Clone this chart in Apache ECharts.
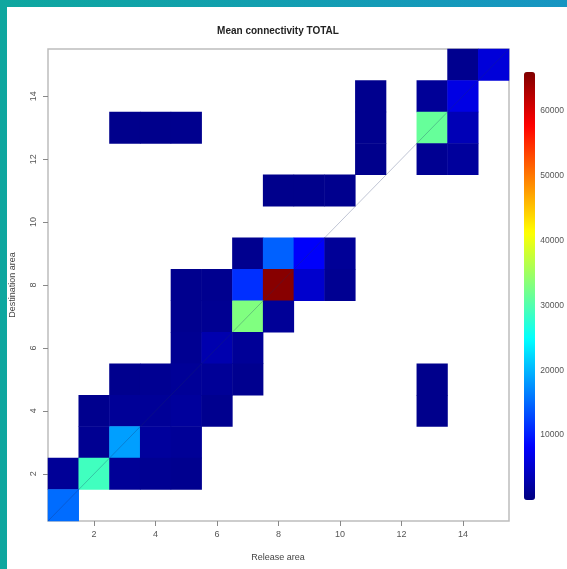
<!DOCTYPE html>
<html>
<head>
<meta charset="utf-8">
<script src="https://cdn.jsdelivr.net/npm/echarts@6/dist/echarts.min.js"></script>
<style>
html,body{margin:0;padding:0;background:#fff;}
#chart{width:567px;height:569px;}
</style>
</head>
<body>
<div id="chart"></div>
<script>
// ---- data ----
const releaseAreas = [1,2,3,4,5,6,7,8,9,10,11,12,13,14,15];
const destinationAreas = [1,2,3,4,5,6,7,8,9,10,11,12,13,14,15];
// [release area, destination area, mean connectivity]
const connectivity = [
  [14,15,1000],[15,15,5800],
  [11,14,900],[13,14,1500],[14,14,6500],
  [3,13,800],[4,13,800],[5,13,900],[11,13,900],[13,13,31300],[14,13,3500],
  [11,12,800],[13,12,1200],[14,12,1800],
  [8,11,800],[9,11,800],[10,11,900],
  [7,9,1000],[8,9,14500],[9,9,8000],[10,9,1500],
  [5,8,900],[6,8,1000],[7,8,11300],[8,8,65500],[9,8,5000],[10,8,1200],
  [5,7,1000],[6,7,1200],[7,7,33000],[8,7,1500],
  [5,6,1200],[6,6,3000],[7,6,1500],
  [3,5,900],[4,5,1200],[5,5,1500],[6,5,1500],[7,5,1000],[13,5,800],
  [2,4,900],[3,4,1500],[4,4,1500],[5,4,1800],[6,4,1000],[13,4,800],
  [2,3,1200],[3,3,18500],[4,3,1800],[5,3,1500],
  [1,2,1500],[2,2,28900],[3,2,1500],[4,2,1200],[5,2,1000],
  [1,1,15200]
];
const xTicks = [2,4,6,8,10,12,14];
const yTicks = [2,4,6,8,10,12,14];
const colorTicks = [10000,20000,30000,40000,50000,60000];
const colorMin = 0;
const colorMax = 66000;

// jet colour map (evenly spaced stops)
const jet = ['#000080','#0000ff','#0080ff','#00ffff','#80ff80','#ffff00','#ff8000','#ff0000','#800000'];

const heatData = connectivity.map(([x, y, v]) => [releaseAreas.indexOf(x), destinationAreas.indexOf(y), v]);
const lo = releaseAreas[0] - 0.5;
const hi = releaseAreas[releaseAreas.length - 1] + 0.5;
const diagonal = [[lo, lo], [hi, hi]];

const FONT = 'Liberation Sans, Arial, sans-serif';
const chart = echarts.init(document.getElementById('chart'), null, {renderer: 'canvas'});

const option = {
  animation: false,
  backgroundColor: '#ffffff',
  graphic: [
    {type: 'rect', z: -10, silent: true, shape: {x: 0, y: 0, width: 567, height: 569},
      style: {fill: new echarts.graphic.LinearGradient(0, 0, 1, 0, [
        {offset: 0, color: '#0ea79f'}, {offset: 1, color: '#1795c2'}])}},
    {type: 'rect', z: -9, silent: true, shape: {x: 7, y: 7, width: 560, height: 562}, style: {fill: '#ffffff'}},
    {type: 'text', x: 278, y: 31, style: {text: 'Mean connectivity TOTAL', font: 'bold 10px ' + FONT, fill: '#222', textAlign: 'center', textVerticalAlign: 'middle'}},
    {type: 'text', x: 278, y: 558, style: {text: 'Release area', font: '9px ' + FONT, fill: '#444', textAlign: 'center', textVerticalAlign: 'middle'}},
    {type: 'text', x: 13, y: 285, rotation: Math.PI / 2, style: {text: 'Destination area', font: '9px ' + FONT, fill: '#444', textAlign: 'center', textVerticalAlign: 'middle'}}
  ],
  grid: [
    {left: 48, top: 49, width: 461, height: 472, show: true, borderColor: '#bdbdbd', borderWidth: 1.5, backgroundColor: 'transparent'},
    {left: 524, top: 72, width: 11, height: 428, show: false}
  ],
  xAxis: [
    {type: 'category', gridIndex: 0, data: releaseAreas.map(String), boundaryGap: true,
      axisLine: {show: false},
      axisTick: {show: true, alignWithLabel: true, length: 5, interval: (i, v) => xTicks.includes(Number(v)), lineStyle: {color: '#888'}},
      axisLabel: {interval: (i, v) => xTicks.includes(Number(v)), fontSize: 9, color: '#555', margin: 9, fontFamily: FONT},
      splitLine: {show: false}},
    {type: 'value', gridIndex: 0, min: lo, max: hi, show: false},
    {type: 'value', gridIndex: 1, show: false}
  ],
  yAxis: [
    {type: 'category', gridIndex: 0, data: destinationAreas.map(String), boundaryGap: true,
      axisLine: {show: false},
      axisTick: {show: true, alignWithLabel: true, length: 5, interval: (i, v) => yTicks.includes(Number(v)), lineStyle: {color: '#888'}},
      axisLabel: {interval: (i, v) => yTicks.includes(Number(v)), rotate: 90, fontSize: 9, color: '#555', margin: 10, fontFamily: FONT},
      splitLine: {show: false}},
    {type: 'value', gridIndex: 0, min: lo, max: hi, show: false},
    {type: 'value', gridIndex: 1, position: 'right', min: colorMin, max: colorMax,
      axisLine: {show: false},
      axisTick: {show: true, length: 4, customValues: colorTicks, lineStyle: {color: '#888'}},
      axisLabel: {customValues: colorTicks, formatter: v => String(v), fontSize: 8.5, color: '#555', margin: 10, fontFamily: FONT},
      splitLine: {show: false}}
  ],
  visualMap: {
    type: 'continuous', seriesIndex: 0, min: colorMin, max: colorMax,
    orient: 'vertical', left: 524, top: 72, itemWidth: 11, itemHeight: 428,
    padding: 0, calculable: false, text: null, showLabel: false, hoverLink: false,
    textStyle: {fontSize: 0, color: 'transparent'},
    inRange: {color: jet}
  },
  series: [
    {type: 'heatmap', xAxisIndex: 0, yAxisIndex: 0, data: heatData, itemStyle: {borderWidth: 0}, emphasis: {disabled: true}},
    {type: 'line', xAxisIndex: 1, yAxisIndex: 1, data: diagonal, symbol: 'none', silent: true,
      lineStyle: {color: 'rgba(30,45,100,0.28)', width: 1}, z: 5}
  ]
};
chart.setOption(option);
</script>
</body>
</html>
